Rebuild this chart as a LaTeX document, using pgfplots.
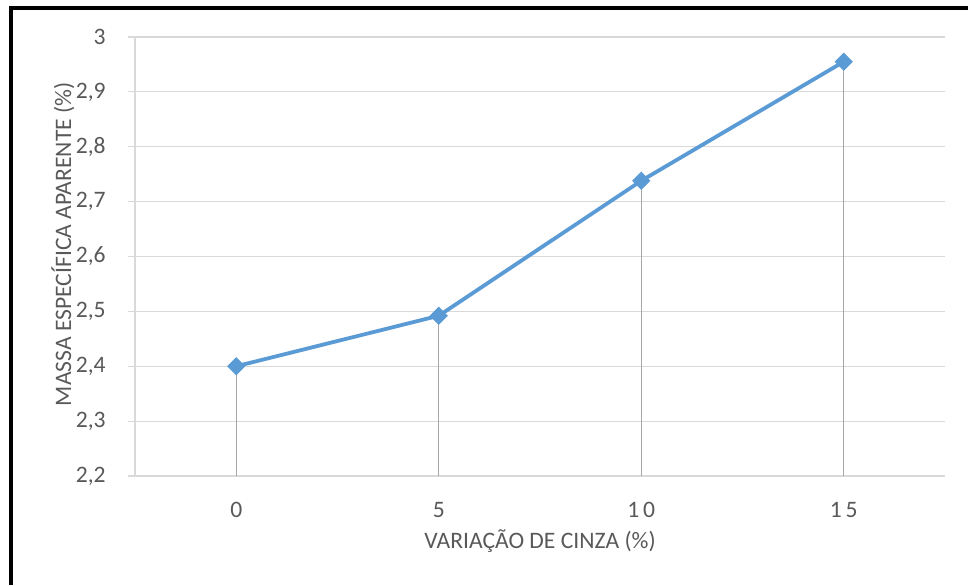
\documentclass[border=0pt]{standalone}
\usepackage{pgfplots}
\pgfplotsset{compat=1.18}
\usepackage{fontspec}
\setmainfont{Carlito}

\definecolor{serieblue}{HTML}{5B9BD5}
\definecolor{gridgray}{HTML}{D9D9D9}
\definecolor{dropgray}{HTML}{A6A6A6}
\definecolor{textgray}{HTML}{595959}

\begin{document}
\begin{tikzpicture}
  % page area and the frame around the chart
  \path[use as bounding box] (0pt,0pt) rectangle (484pt,292.5pt);
  \draw[black, line width=1.6pt] (5.5pt,0pt) -- (5.5pt,288.5pt) -- (484pt,288.5pt);

  \begin{axis}[
    at={(67.5pt,54.5pt)}, anchor=south west,
    scale only axis,
    width=405pt, height=219.5pt,
    xmin=-2.5, xmax=17.5,
    ymin=2.2, ymax=3,
    xtick={0,5,10,15},
    xticklabels={0,5,1\,0,1\,5},
    ytick={2.2,2.3,...,3.01},
    /pgf/number format/use comma,
    /pgf/number format/fixed,
    /pgf/number format/precision=1,
    /pgf/number format/assume math mode=true,
    font=\fontsize{11.8pt}{14pt}\selectfont,
    tick label style={text=textgray},
    xticklabel style={anchor=center, yshift=-13.5pt},
    yticklabel style={anchor=east, inner sep=0pt, xshift=-11pt},
    ymajorgrids,
    grid style={gridgray, line width=0.6pt},
    axis x line*=bottom,
    axis y line*=left,
    x axis line style={draw=none},
    y axis line style={gridgray, line width=0.6pt},
    xtick style={draw=none},
    ytick style={gridgray, line width=0.6pt},
    tick align=outside,
    major tick length=3.5pt,
    xlabel={VARIAÇÃO DE CINZA (\%)},
    ylabel={MASSA ESPECÍFICA APARENTE (\%)},
    label style={text=textgray},
    xlabel style={at={(axis description cs:0.5,0)}, anchor=center, yshift=-32.5pt},
    ylabel style={at={(axis description cs:0,0.528)}, anchor=center, yshift=36pt},
    clip=true,
  ]
    % drop lines from each point to the category axis
    \addplot[ycomb, dropgray, line width=0.6pt, mark=none] coordinates {
      (0,2.400) (5,2.492) (10,2.738) (15,2.955)
    };
    % measured series
    \addplot[serieblue, line width=1.9pt, mark=square*,
             mark size=3pt, mark options={rotate=45, fill=serieblue, draw=serieblue, line width=0.5pt}]
      coordinates {
      (0,2.400) (5,2.492) (10,2.738) (15,2.955)
    };
  \end{axis}
\end{tikzpicture}
\end{document}
